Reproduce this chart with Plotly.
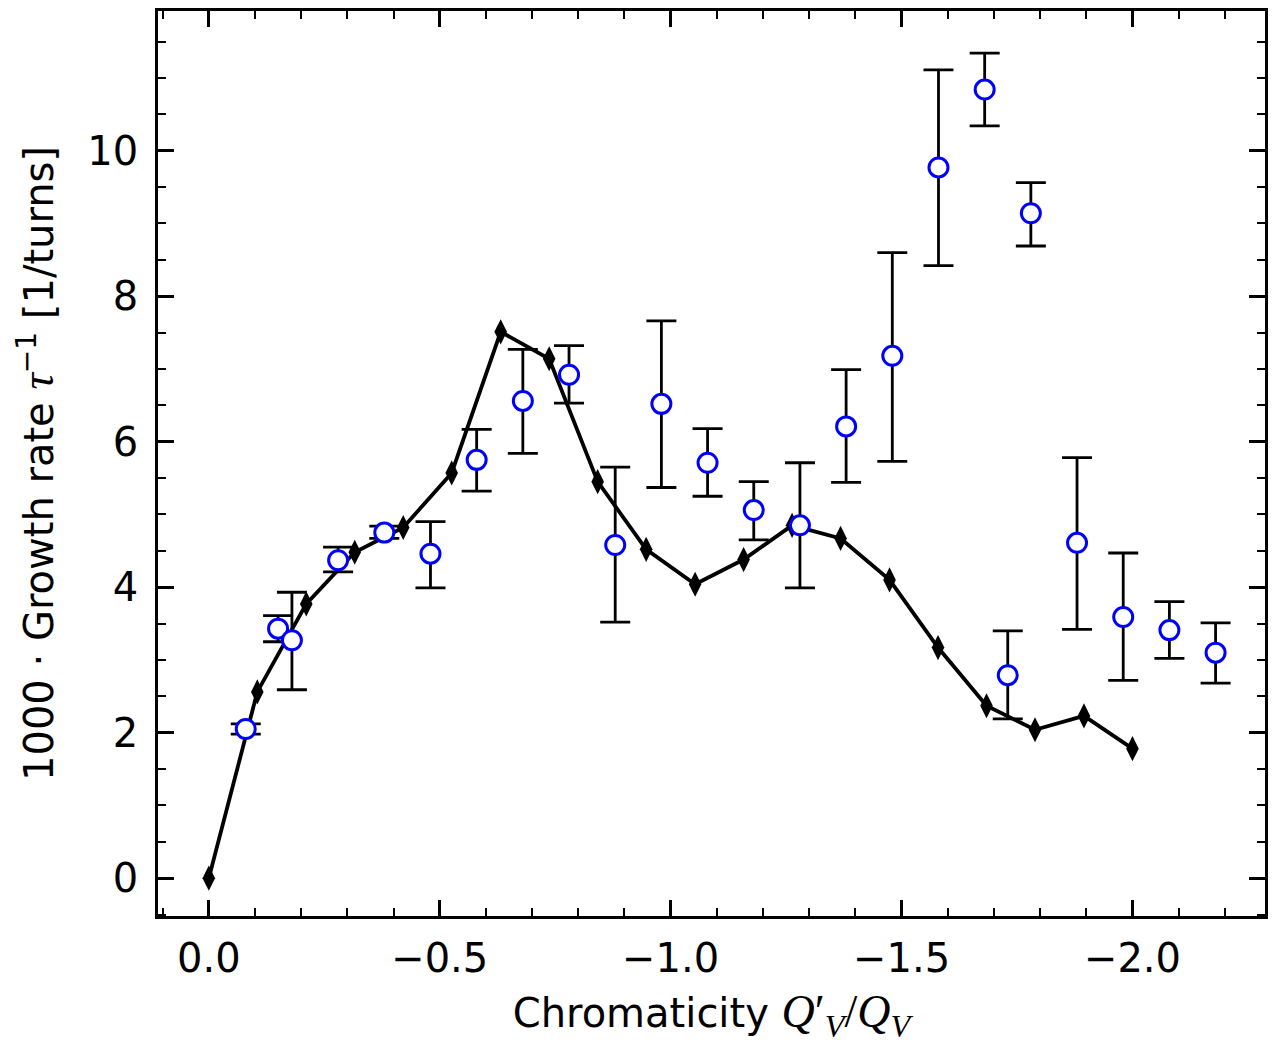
import plotly.graph_objects as go

# Simulation (black line with thin diamonds)
sim_x = [0.0, -0.105, -0.211, -0.316, -0.421, -0.526, -0.632, -0.737, -0.842, -0.947,
         -1.053, -1.158, -1.263, -1.368, -1.474, -1.579, -1.684, -1.789, -1.895, -2.0]
sim_y = [0.0, 2.56, 3.77, 4.48, 4.82, 5.57, 7.51, 7.14, 5.45, 4.52,
         4.04, 4.38, 4.85, 4.67, 4.10, 3.17, 2.37, 2.04, 2.23, 1.78]

# Measurements (blue open circles with asymmetric error bars)
meas_x = [-0.08, -0.15, -0.18, -0.28, -0.38, -0.48, -0.58, -0.68, -0.78, -0.88,
          -0.98, -1.08, -1.18, -1.28, -1.38, -1.48, -1.58, -1.68, -1.78, -1.73,
          -1.88, -1.98, -2.08, -2.18]
meas_y = [2.05, 3.43, 3.27, 4.37, 4.75, 4.46, 5.75, 6.56, 6.92, 4.58,
          6.52, 5.71, 5.06, 4.85, 6.21, 7.18, 9.77, 10.84, 9.14, 2.79,
          4.61, 3.59, 3.41, 3.10]
err_plus = [0.07, 0.18, 0.66, 0.18, 0.09, 0.44, 0.42, 0.71, 0.40, 1.07,
            1.14, 0.47, 0.39, 0.86, 0.78, 1.42, 1.34, 0.50, 0.42, 0.61,
            1.17, 0.88, 0.39, 0.41]
err_minus = [0.07, 0.18, 0.68, 0.16, 0.08, 0.47, 0.43, 0.72, 0.39, 1.06,
             1.15, 0.46, 0.41, 0.86, 0.77, 1.45, 1.35, 0.50, 0.45, 0.60,
             1.19, 0.87, 0.39, 0.42]

x_ticks = [0.0, -0.5, -1.0, -1.5, -2.0]
y_ticks = [0, 2, 4, 6, 8, 10]

FONT = "DejaVu Sans"
MATH = "Liberation Serif"
FS = 40

fig = go.Figure()

fig.add_trace(go.Scatter(
    x=sim_x, y=sim_y, mode="lines+markers",
    line=dict(color="black", width=3.8),
    marker=dict(symbol="diamond-tall", size=18, color="black"),
    showlegend=False,
))

fig.add_trace(go.Scatter(
    x=meas_x, y=meas_y, mode="markers",
    marker=dict(symbol="circle", size=19, color="white",
                line=dict(color="#0000ff", width=3)),
    error_y=dict(type="data", symmetric=False, array=err_plus, arrayminus=err_minus,
                 color="black", thickness=2.8, width=15),
    showlegend=False,
))

axis_common = dict(
    showline=True, linecolor="black", linewidth=2.5, mirror="allticks",
    ticks="inside", ticklen=16, tickwidth=2.5, tickcolor="black",
    showgrid=False, zeroline=False,
    tickfont=dict(family=FONT, size=FS, color="black"),
)

math_span = "<span style=\"font-family:'%s';font-size:46px\">" % MATH

fig.update_layout(
    width=1276, height=1047,
    margin=dict(l=158, r=11, t=8, b=131),
    paper_bgcolor="white", plot_bgcolor="white",
    font=dict(family=FONT, color="black"),
    xaxis=dict(
        **axis_common,
        range=[0.11, -2.287],
        tickvals=x_ticks, tickformat=".1f",
        minor=dict(dtick=0.1, tick0=0, ticks="inside", ticklen=8, tickwidth=2.2, tickcolor="black"),
        ticklabelstandoff=5,
        title=dict(
            text="Chromaticity " + math_span + "<i>Q</i>′<sub><i>V</i></sub>/<i>Q</i><sub><i>V</i></sub></span>",
            font=dict(family=FONT, size=FS, color="black"), standoff=20),
    ),
    yaxis=dict(
        **axis_common,
        range=[-0.52, 11.92],
        tickvals=y_ticks,
        minor=dict(dtick=0.5, tick0=0, ticks="inside", ticklen=8, tickwidth=2.2, tickcolor="black"),
        ticklabelstandoff=9,
        title=dict(
            text="1000 · Growth rate " + math_span + "<i>τ</i></span><sup>−1</sup> [1/turns]",
            font=dict(family=FONT, size=FS, color="black"), standoff=22),
    ),
)

fig.write_html("out.html")
